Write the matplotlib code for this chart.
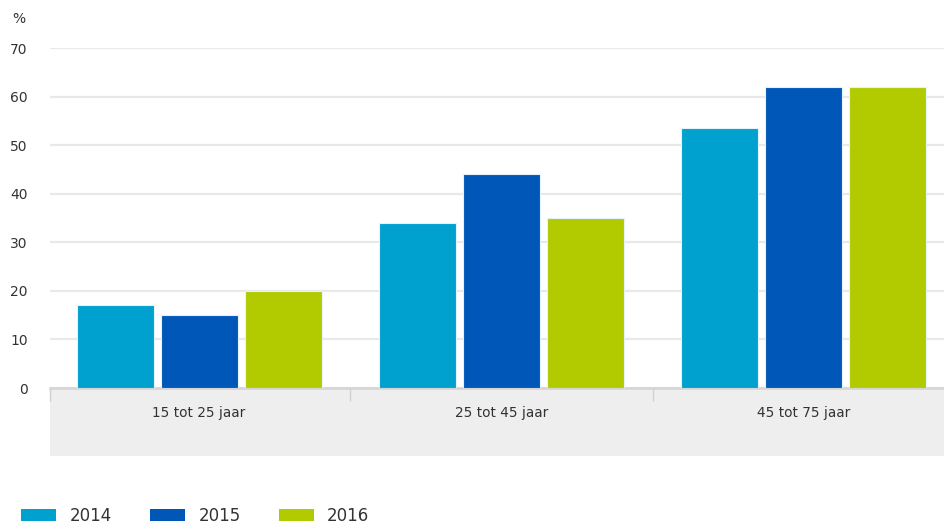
import matplotlib.pyplot as plt
import numpy as np
from matplotlib.patches import Rectangle, Patch

categories = ['15 tot 25 jaar', '25 tot 45 jaar', '45 tot 75 jaar']
years = ['2014', '2015', '2016']
v2014 = [17, 34, 53.5]
v2015 = [15, 44, 62]
v2016 = [20, 35, 62]
colors = ['#00A0CF', '#0057B8', '#B2CB00']

plt.rcParams['font.family'] = 'DejaVu Sans'

fig = plt.figure(figsize=(9.45, 5.23), dpi=100)
ax = fig.add_axes([50 / 945, 1 - 388 / 523, 895 / 945, 340 / 523])

# grey band under the category axis
fig.patches.append(Rectangle((50 / 945, 1 - 456 / 523), 895 / 945, 68 / 523,
                             transform=fig.transFigure, facecolor='#eeeeee',
                             edgecolor='none', zorder=-1))

x = np.arange(len(categories))
width = 0.2545
step = 0.2777
for i, (vals, c) in enumerate(zip([v2014, v2015, v2016], colors)):
    ax.bar(x + (i - 1) * step, vals, width, color=c, edgecolor='#e6f2fa',
           linewidth=0.8, zorder=3)

ax.set_xlim(-0.493, 2.467)
ax.set_ylim(0, 70)
ax.set_yticks(range(0, 71, 10))
ax.yaxis.grid(True, color='#e9e9e9', linewidth=1.6)
ax.set_axisbelow(True)
ax.tick_params(axis='y', length=0, pad=16, labelsize=10, labelcolor='#333333')

ax.set_xticks(x, categories)
ax.set_xticks([-0.493, 0.5, 1.5], minor=True)
ax.tick_params(axis='x', which='major', length=0, pad=13, labelsize=9.8,
               labelcolor='#333333')
ax.tick_params(axis='x', which='minor', length=9, width=1, color='#d0d0d0')

for s in ['top', 'right', 'left']:
    ax.spines[s].set_visible(False)
ax.spines['bottom'].set_color('#d4d4d4')
ax.spines['bottom'].set_linewidth(1.8)
ax.patch.set_alpha(0)

fig.text(12 / 945, 1 - 19 / 523, '%', fontsize=10, color='#333333', va='center')

handles = [Patch(facecolor=c) for c in colors]
fig.legend(handles, years, loc='lower left', bbox_to_anchor=(6 / 945, -0.032),
           ncol=3, frameon=False, fontsize=12, handlelength=2.1,
           handleheight=0.66, handletextpad=0.8, columnspacing=2.3,
           labelcolor='#333333')

fig.savefig('out.png', dpi=100)
